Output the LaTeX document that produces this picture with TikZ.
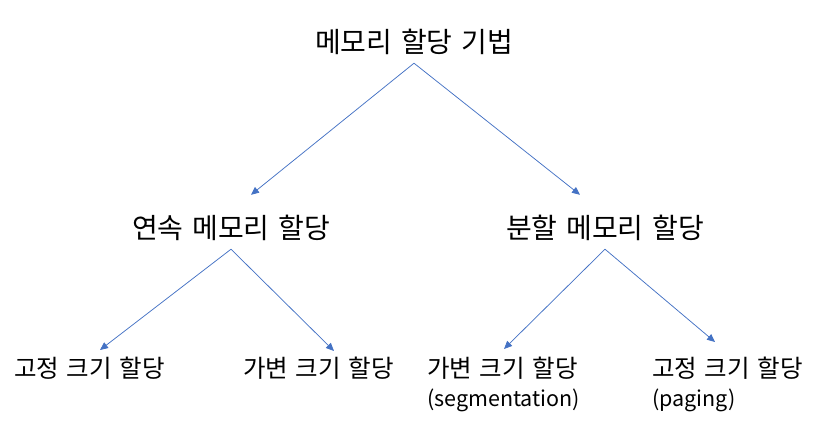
\documentclass[tikz,border=0pt]{standalone}
\usepackage{fontspec}
\setmainfont[WordSpace=1.4]{Noto Sans CJK KR}
\usepackage{xcolor}
\usetikzlibrary{arrows.meta,positioning,calc}
\definecolor{linkblue}{HTML}{4472C4}
\newcommand{\subline}{\fontsize{21.5}{29}\selectfont}
\tikzset{
  title/.style={font=\fontsize{28}{32}\selectfont, inner sep=0pt, minimum height=42pt},
  leaf/.style={font=\fontsize{24.5}{29}\selectfont, inner sep=0pt, align=left, anchor=base west},
  line/.style={-{Triangle[length=8pt,width=7pt]}, draw=linkblue, line width=0.75pt}
}
\begin{document}
\begin{tikzpicture}[x=1pt,y=-1pt]
  \useasboundingbox (0,0) rectangle (813,421);
  \node[title] (root) at (414,42) {메모리 할당 기법};
  \node[title] (cont) at (231,228) {연속 메모리 할당};
  \node[title] (part) at (605,228) {분할 메모리 할당};

  % leaves, two-line ones placed by their last line
  \node[leaf] (fixA) at (14,377) {고정 크기 할당};
  \node[leaf] (varA) at (243,377) {가변 크기 할당};
  \node[leaf] (varB) at (427,406) {가변 크기 할당\\\subline(segmentation)};
  \node[leaf] (fixB) at (652,406) {고정 크기 할당\\\subline(paging)};

  \draw[line] (root.south) -- ($(cont.north)+(20,-12)$);
  \draw[line] (root.south) -- ($(part.north)+(-25,-12)$);
  \draw[line] (cont.south) -- ($(fixA.base west)+(86,-27)$);
  \draw[line] (cont.south) -- ($(varA.base west)+(91,-26)$);
  \draw[line] (part.south) -- ($(varB.base west)+(77,-57)$);
  \draw[line] (part.south) -- ($(fixB.base west)+(63,-64)$);
\end{tikzpicture}
\end{document}
